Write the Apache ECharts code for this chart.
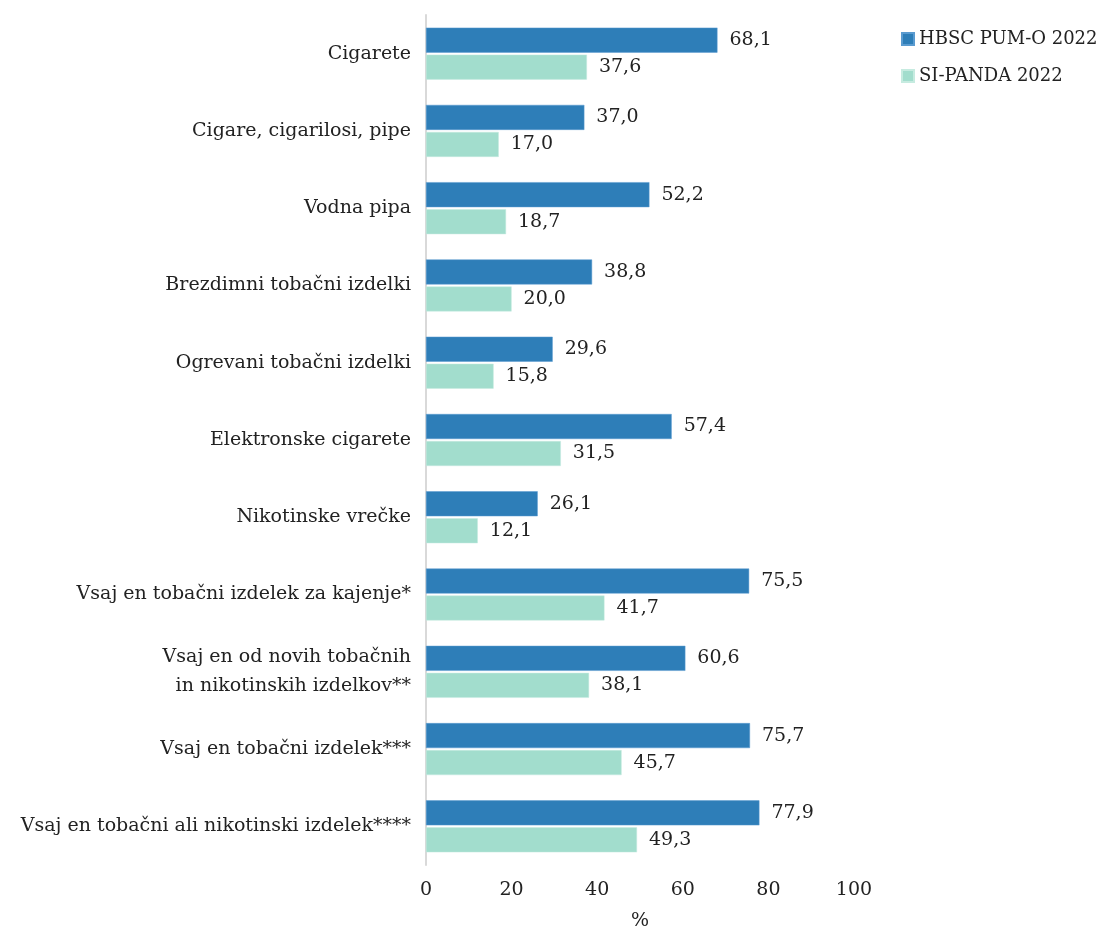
<!DOCTYPE html>
<html>
<head>
<meta charset="utf-8">
<script src="https://cdn.jsdelivr.net/npm/echarts@6/dist/echarts.min.js"></script>
<style>
  html, body { margin: 0; padding: 0; background: #fff; }
  #chart { width: 1105px; height: 931px; }
</style>
</head>
<body>
<div id="chart"></div>
<script>
// Use of tobacco and nicotine products (%), two surveys
const categories = [
  'Cigarete',
  'Cigare, cigarilosi, pipe',
  'Vodna pipa',
  'Brezdimni tobačni izdelki',
  'Ogrevani tobačni izdelki',
  'Elektronske cigarete',
  'Nikotinske vrečke',
  'Vsaj en tobačni izdelek za kajenje*',
  'Vsaj en od novih tobačnih\nin nikotinskih izdelkov**',
  'Vsaj en tobačni izdelek***',
  'Vsaj en tobačni ali nikotinski izdelek****'
];
const hbscValues = [68.1, 37.0, 52.2, 38.8, 29.6, 57.4, 26.1, 75.5, 60.6, 75.7, 77.9];
const pandaValues = [37.6, 17.0, 18.7, 20.0, 15.8, 31.5, 12.1, 41.7, 38.1, 45.7, 49.3];
const seriesNames = ['HBSC PUM-O 2022', 'SI-PANDA 2022'];
const xTicks = [0, 20, 40, 60, 80, 100];

const FONT = 'DejaVu Serif';
const TEXT = '#222';
const SIZE = 19;

const fmt = v => v.toFixed(1).replace('.', ',');

const chart = echarts.init(document.getElementById('chart'));
chart.setOption({
  animation: false,
  textStyle: { fontFamily: FONT, color: TEXT },
  legend: {
    orient: 'vertical',
    left: 896,
    top: 25,
    itemWidth: 12,
    itemHeight: 12,
    itemGap: 19,
    icon: 'rect',
    textStyle: { fontFamily: FONT, fontSize: 18, color: TEXT },
    data: seriesNames
  },
  grid: {
    left: 426, right: 251, top: 15, bottom: 66,
    containLabel: false, outerBoundsMode: 'none'
  },
  xAxis: {
    type: 'value',
    min: xTicks[0],
    max: xTicks[xTicks.length - 1],
    interval: 20,
    name: '%',
    nameLocation: 'middle',
    nameGap: 47,
    nameTextStyle: { fontFamily: FONT, fontSize: SIZE, color: TEXT },
    axisLine: { show: false },
    axisTick: { show: false },
    splitLine: { show: false },
    axisLabel: { fontFamily: FONT, fontSize: SIZE, color: TEXT, margin: 16 }
  },
  yAxis: {
    type: 'category',
    inverse: true,
    data: categories,
    axisLine: { show: true, lineStyle: { color: '#d9d9d9', width: 2 } },
    axisTick: { show: false },
    axisLabel: {
      fontFamily: FONT, fontSize: SIZE, color: TEXT, margin: 15,
      align: 'right', lineHeight: 29
    }
  },
  series: [
    {
      name: seriesNames[0],
      type: 'bar',
      data: hbscValues,
      barWidth: 25,
      barGap: '8%',
      itemStyle: { color: '#2e7eb8', borderColor: '#5a9bd0', borderWidth: 0.5 },
      label: {
        show: true, position: 'right', distance: 12,
        fontFamily: FONT, fontSize: SIZE, color: TEXT,
        formatter: p => fmt(p.value)
      }
    },
    {
      name: seriesNames[1],
      type: 'bar',
      data: pandaValues,
      barWidth: 25,
      itemStyle: { color: '#a2ddcd', borderColor: '#c6ebe0', borderWidth: 0.5 },
      label: {
        show: true, position: 'right', distance: 12,
        fontFamily: FONT, fontSize: SIZE, color: TEXT,
        formatter: p => fmt(p.value)
      }
    }
  ]
});
</script>
</body>
</html>
